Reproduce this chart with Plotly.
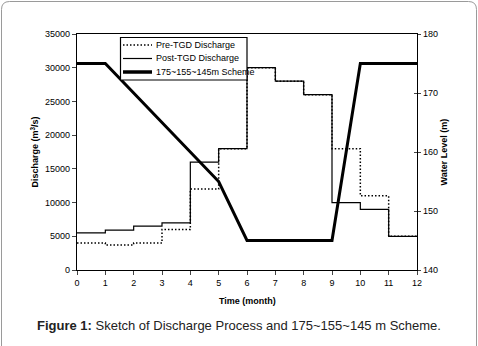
import plotly.graph_objects as go

months = [0, 1, 2, 3, 4, 5, 6, 7, 8, 9, 10, 11, 12]
pre_tgd = [4000, 3700, 4000, 6000, 12000, 18000, 30000, 28000, 26000, 18000, 11000, 5000]
post_tgd = [5500, 5900, 6500, 7000, 16000, 18000, 30000, 28000, 26000, 10000, 9000, 5000]
level_months = [0, 1, 5, 6, 9, 10, 12]
water_level = [175, 175, 155, 145, 145, 175, 175]

x_ticks = list(range(0, 13))
y1_ticks = [0, 5000, 10000, 15000, 20000, 25000, 30000, 35000]
y1_labels = [str(v) for v in y1_ticks]
y2_ticks = [140, 150, 160, 170, 180]
y2_labels = [str(v) for v in y2_ticks]

series_names = ["Pre-TGD Discharge", "Post-TGD Discharge", "175~155~145m Scheme"]

FONT = "Liberation Sans, Arial, sans-serif"
DOT = "1.5px,2px"

fig = go.Figure()
fig.add_trace(go.Scatter(
    x=months, y=pre_tgd + [pre_tgd[-1]], mode="lines", line_shape="hv",
    line=dict(color="black", width=1.5, dash=DOT), name=series_names[0]))
fig.add_trace(go.Scatter(
    x=months, y=post_tgd + [post_tgd[-1]], mode="lines", line_shape="hv",
    line=dict(color="black", width=1.2), name=series_names[1]))
fig.add_trace(go.Scatter(
    x=level_months, y=water_level, mode="lines", yaxis="y2",
    line=dict(color="black", width=3), name=series_names[2]))
fig.add_trace(go.Scatter(x=[0], y=[140], yaxis="y3", mode="lines",
                         showlegend=False, hoverinfo="skip",
                         line=dict(color="rgba(0,0,0,0)")))

L, R, T, B = 77, 417, 34, 270
W, H = 478, 346
def px(x):
    return (x - L) / (R - L)
def py(y):
    return (B - y) / (B - T)

# rounded outer frame
x0, x1, y0, y1 = px(1.5), px(476.5), py(1.5), py(352)
rx, ry = 8 / (R - L), 8 / (B - T)
path = (f"M {x0},{y1} L {x0},{y0 - ry} Q {x0},{y0} {x0 + rx},{y0} "
        f"L {x1 - rx},{y0} Q {x1},{y0} {x1},{y0 - ry} L {x1},{y1}")

shapes = [dict(type="path", xref="paper", yref="paper", path=path,
               line=dict(color="#9a9a9a", width=1))]
# legend box
shapes.append(dict(type="rect", xref="paper", yref="paper",
                   x0=px(120.5), x1=px(247), y0=py(80), y1=py(37.5),
                   fillcolor="white", line=dict(color="black", width=1.2),
                   layer="above"))
legend_styles = [dict(width=1.5, dash=DOT), dict(width=1.2), dict(width=3.5)]
rows = [45, 58.5, 72]
annotations = []
for name, st, ry_ in zip(series_names, legend_styles, rows):
    shapes.append(dict(type="line", xref="paper", yref="paper",
                       x0=px(123), x1=px(152), y0=py(ry_), y1=py(ry_),
                       line=dict(color="black", **st), layer="above"))
    annotations.append(dict(text=name, x=px(153.5), y=py(ry_), xref="paper",
                            yref="paper", xanchor="left", yanchor="middle",
                            showarrow=False, font=dict(size=9)))

annotations += [
    dict(text="<b>Discharge (m<sup>3</sup>/s)</b>", x=px(34.5), y=0.5,
         xref="paper", yref="paper", textangle=-90, showarrow=False,
         xanchor="center", yanchor="middle", font=dict(size=9)),
    dict(text="<b>Water Level (m)</b>", x=px(443.5), y=0.5,
         xref="paper", yref="paper", textangle=-90, showarrow=False,
         xanchor="center", yanchor="middle", font=dict(size=9)),
    dict(text="<b>Time (month)</b>", x=px(247), y=py(300.5),
         xref="paper", yref="paper", showarrow=False,
         xanchor="center", yanchor="middle", font=dict(size=9)),
    dict(text="<b>Figure 1:</b> Sketch of Discharge Process and 175~155~145 m Scheme.",
         x=px(239), y=py(325), xref="paper", yref="paper", showarrow=False,
         xanchor="center", yanchor="middle",
         font=dict(size=13, color="#222222")),
]

fig.update_layout(
    width=W, height=H,
    margin=dict(l=L, r=W - R, t=T, b=H - B),
    paper_bgcolor="white", plot_bgcolor="white",
    font=dict(family=FONT, size=9, color="black"),
    showlegend=False,
    xaxis=dict(range=[0, 12], tickvals=x_ticks, ticktext=[str(v) for v in x_ticks],
               ticks="outside", ticklen=4,
               showline=True, linecolor="black", linewidth=1.2, mirror=True,
               showgrid=False, zeroline=False, tickfont=dict(size=9)),
    yaxis=dict(range=[0, 35000], tickvals=y1_ticks, ticktext=y1_labels,
               ticks="outside", ticklen=4,
               showline=True, linecolor="black", linewidth=1.2,
               showgrid=False, zeroline=False, tickfont=dict(size=9)),
    yaxis2=dict(range=[140, 180], tickvals=y2_ticks, ticktext=y2_labels,
                overlaying="y", side="right",
                ticks="outside", ticklen=3, showline=True, linecolor="black",
                linewidth=1.2, showgrid=False, zeroline=False, tickfont=dict(size=9)),
    yaxis3=dict(range=[140, 180], tickvals=y2_ticks, overlaying="y", side="right",
                ticks="inside", ticklen=3, showticklabels=False, showline=False,
                showgrid=False, zeroline=False),
    shapes=shapes,
    annotations=annotations,
)

fig.write_html("out.html", config={"displayModeBar": False, "staticPlot": True})
with open("out.html", encoding="utf-8") as f:
    html = f.read()
html = html.replace("<head>", "<head><style>html,body{margin:0;padding:0;overflow:hidden;}</style>", 1)
with open("out.html", "w", encoding="utf-8") as f:
    f.write(html)
